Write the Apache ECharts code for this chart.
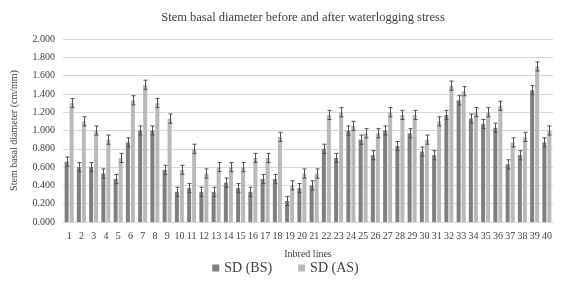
<!DOCTYPE html>
<html>
<head>
<meta charset="utf-8">
<script src="https://cdn.jsdelivr.net/npm/echarts@6/dist/echarts.min.js"></script>
<style>
  html, body { margin: 0; padding: 0; background: #fff; }
  #chart { width: 571px; height: 284px; }
</style>
</head>
<body>
<div id="chart"></div>
<script>
// x-axis categories (inbred lines)
var lineLabels = [];
for (var n = 1; n <= 40; n++) lineLabels.push(String(n));

// stem basal diameter before stress
var sdBS = [0.66, 0.60, 0.60, 0.53, 0.47, 0.87, 1.00, 1.00, 0.57, 0.33,
            0.37, 0.33, 0.33, 0.43, 0.37, 0.33, 0.47, 0.47, 0.23, 0.37,
            0.40, 0.80, 0.70, 1.00, 0.90, 0.73, 1.00, 0.83, 0.97, 0.77,
            0.73, 1.17, 1.33, 1.13, 1.07, 1.03, 0.63, 0.73, 1.44, 0.87];
// stem basal diameter after stress
var sdAS = [1.30, 1.10, 1.00, 0.90, 0.70, 1.33, 1.50, 1.30, 1.13, 0.57,
            0.80, 0.53, 0.60, 0.60, 0.60, 0.70, 0.70, 0.93, 0.40, 0.53,
            0.53, 1.17, 1.20, 1.05, 0.97, 0.97, 1.20, 1.17, 1.17, 0.90,
            1.10, 1.49, 1.43, 1.20, 1.20, 1.27, 0.87, 0.93, 1.70, 1.00];
// error bar half-length
var errBS = 0.05;
var errAS = 0.05;

var serif = 'Liberation Serif';
var txt = '#404040';
var barW = 4;
var gap = 1;

function errSeries(name, vals, err, dx) {
  return {
    name: name,
    type: 'custom',
    z: 5,
    data: vals.map(function (v, i) { return [i, v, err]; }),
    renderItem: function (params, api) {
      var top = api.coord([api.value(0), api.value(1) + api.value(2)]);
      var bot = api.coord([api.value(0), api.value(1) - api.value(2)]);
      var x = Math.round(top[0] + dx) + 0.5;
      var st = { stroke: '#505050', lineWidth: 1 };
      return {
        type: 'group',
        children: [
          { type: 'line', shape: { x1: x, y1: top[1], x2: x, y2: bot[1] }, style: st },
          { type: 'line', shape: { x1: x - 2, y1: top[1], x2: x + 2, y2: top[1] }, style: st },
          { type: 'line', shape: { x1: x - 2, y1: bot[1], x2: x + 2, y2: bot[1] }, style: st }
        ]
      };
    }
  };
}

var myChart = echarts.init(document.getElementById('chart'));
var option = {
  animation: false,
  title: {
    text: 'Stem basal diameter before and after waterlogging stress',
    left: 298,
    textAlign: 'center',
    top: 6,
    textStyle: { fontFamily: serif, fontSize: 12.5, fontWeight: 'normal', color: txt }
  },
  legend: {
    bottom: 4,
    left: 'center',
    itemWidth: 7,
    itemHeight: 7,
    itemGap: 26,
    data: [{ name: 'SD (BS)', icon: 'rect' }, { name: 'SD (AS)', icon: 'rect' }],
    textStyle: { fontFamily: serif, fontSize: 14, color: txt }
  },
  grid: { left: 63, top: 39, bottom: 62, width: 490 },
  xAxis: {
    type: 'category',
    data: lineLabels,
    axisLine: { lineStyle: { color: '#d9d9d9' } },
    axisTick: { show: false },
    axisLabel: { fontFamily: serif, fontSize: 10, color: txt, margin: 9, interval: 0 },
    name: 'Inbred lines',
    nameLocation: 'middle',
    nameGap: 27,
    nameTextStyle: { fontFamily: serif, fontSize: 10, color: txt }
  },
  yAxis: {
    type: 'value',
    min: 0,
    max: 2,
    interval: 0.2,
    axisLine: { show: false },
    axisTick: { show: false },
    splitLine: { lineStyle: { color: '#d9d9d9' } },
    axisLabel: {
      fontFamily: serif, fontSize: 10, color: txt, margin: 8,
      formatter: function (v) { return v.toFixed(3); }
    },
    name: 'Stem basal diameter (cm/mm)',
    nameLocation: 'middle',
    nameGap: 44,
    nameTextStyle: { fontFamily: serif, fontSize: 10, color: txt }
  },
  series: [
    {
      name: 'SD (BS)',
      type: 'bar',
      barWidth: barW,
      barGap: '25%',
      itemStyle: { color: '#7f7f7f' },
      data: sdBS
    },
    {
      name: 'SD (AS)',
      type: 'bar',
      barWidth: barW,
      barGap: '25%',
      itemStyle: { color: '#b9b9b9' },
      data: sdAS
    },
    errSeries('errBS', sdBS, errBS, -(barW + gap) / 2),
    errSeries('errAS', sdAS, errAS, (barW + gap) / 2)
  ]
};
myChart.setOption(option);
</script>
</body>
</html>
